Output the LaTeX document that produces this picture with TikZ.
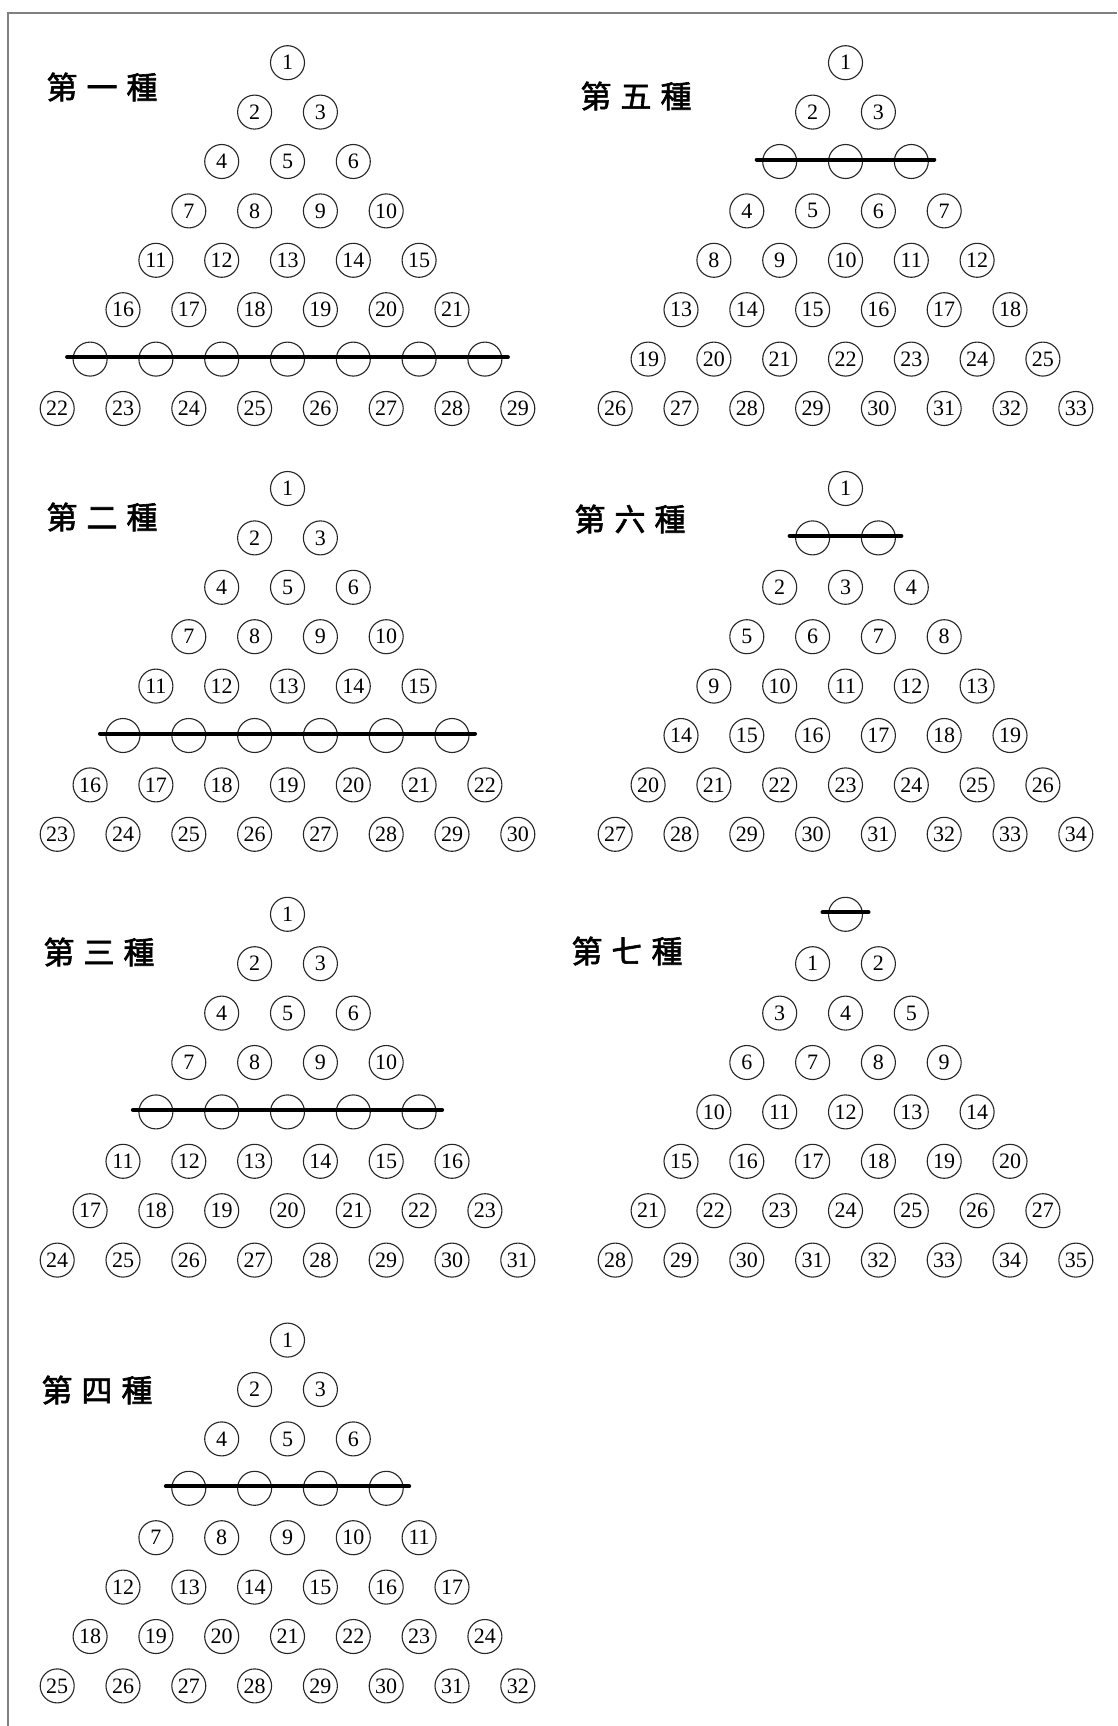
\documentclass[tikz,border=0pt]{standalone}
\usepackage{fontspec}
\setmainfont{Liberation Serif}
\newfontfamily\cjk[FakeBold=2]{Noto Sans CJK TC}
\tikzset{
  num/.style={circle, draw=black!85, line width=1.1pt, minimum size=34pt, inner sep=0pt,
              font=\fontsize{22}{22}\selectfont},
  gone/.style={circle, draw=black!85, line width=1.1pt, minimum size=34pt, inner sep=0pt},
  bar/.style={line width=4pt, line cap=round, draw=black},
  title/.style={font=\cjk\fontsize{31}{31}\selectfont, inner sep=0pt},
  pageframe/.style={draw=black!50, line width=2pt, line join=miter}
}
\newcommand\trigrid[4]{%
  \foreach \r in {1,...,8}{
    \foreach \i in {1,...,\r}{
      \pgfmathsetmacro\xx{#2+(\i-(\r+1)/2)*65.8}
      \pgfmathsetmacro\yy{#3+(\r-1)*49.4}
      \ifnum\r=#4
        \node[gone] (#1-x\i) at (\xx,\yy) {};
      \else
        \ifnum\r<#4
          \pgfmathtruncatemacro\nn{\r*(\r-1)/2+\i}
        \else
          \pgfmathtruncatemacro\nn{\r*(\r-1)/2+\i-#4}
        \fi
        \node[num] (#1-n\nn) at (\xx,\yy) {\nn};
      \fi
    }
  }
  \draw[bar] ([xshift=-23pt,yshift=2pt]#1-x1.center) -- ([xshift=23pt,yshift=2pt]#1-x#4.center);
}
\begin{document}
\begin{tikzpicture}[x=1pt,y=-1pt]
  \useasboundingbox (0,0) rectangle (1117,1726);
  \fill[white] (0,0) rectangle (1117,1726);
  \coordinate (fbl) at (8.3,1726);
  \coordinate (ftl) at (8.3,12.7);
  \coordinate (ftr) at (1117,12.7);
  \draw[pageframe] (fbl) -- (ftl) -- (ftr);

  \trigrid{a}{287.5}{62.7}{7}
  \trigrid{b}{287.5}{488.5}{6}
  \trigrid{c}{287.5}{914.3}{5}
  \trigrid{d}{287.5}{1340.1}{4}
  \trigrid{e}{845.5}{62.7}{3}
  \trigrid{f}{845.5}{488.5}{2}
  \trigrid{g}{845.5}{914.3}{1}

  \node[title] (la) at (102,87) {第\hspace{9pt}一\hspace{9pt}種};
  \node[title] (lb) at (102,517) {第\hspace{9pt}二\hspace{9pt}種};
  \node[title] (lc) at (99,952) {第\hspace{9pt}三\hspace{9pt}種};
  \node[title] (ld) at (97,1390) {第\hspace{9pt}四\hspace{9pt}種};
  \node[title] (le) at (636,96) {第\hspace{9pt}五\hspace{9pt}種};
  \node[title] (lf) at (630,519) {第\hspace{9pt}六\hspace{9pt}種};
  \node[title] (lg) at (627,951) {第\hspace{9pt}七\hspace{9pt}種};
\end{tikzpicture}
\end{document}
